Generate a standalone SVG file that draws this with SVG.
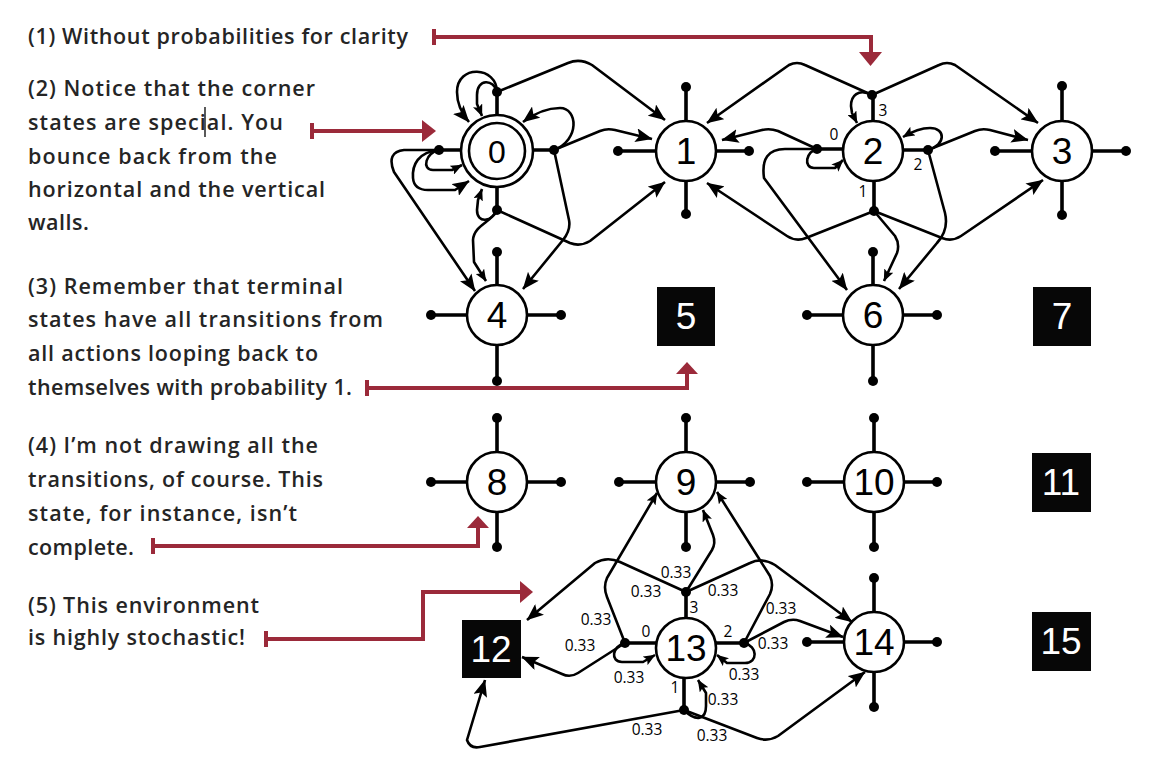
<svg xmlns="http://www.w3.org/2000/svg" width="1150" height="766" viewBox="0 0 1150 766">
  <style>
    .note { font-family: "Open Sans", "Liberation Sans", sans-serif; font-size: 21.5px; font-weight: 600; fill: #252525; }
    .edge { fill: none; stroke: #000; stroke-width: 2.6; stroke-linejoin: round; }
    .big { marker-end: url(#ah); }
    .sm { marker-end: url(#ahs); }
    .spoke { stroke: #000; stroke-width: 3.6; }
    .dot { fill: #000; }
    .ring { fill: #fff; stroke: #000; stroke-width: 2.6; }
    .lbl { font-family: "Liberation Sans", Arial, sans-serif; font-size: 37px; text-anchor: middle; fill: #000; }
    .term rect { fill: #070707; }
    .term text { font-family: "Liberation Sans", Arial, sans-serif; font-size: 37px; text-anchor: middle; fill: #fff; }
    .p { font-family: "Open Sans", "Liberation Sans", sans-serif; font-size: 15.5px; text-anchor: middle; fill: #000; }
    .callout { fill: none; stroke: #9b2a3a; stroke-width: 4; }
    .callout-head { fill: #9b2a3a; }
  </style>
  <defs>
    <marker id="ah" markerUnits="userSpaceOnUse" viewBox="0 0 17 14" refX="16.5" refY="7" markerWidth="17" markerHeight="14" orient="auto">
      <path d="M0,0 L17,7 L0,14 L3.5,7 z" fill="#000"/>
    </marker>
    <marker id="ahs" markerUnits="userSpaceOnUse" viewBox="0 0 12 10" refX="11.5" refY="5" markerWidth="12" markerHeight="10" orient="auto">
      <path d="M0,0 L12,5 L0,10 L2.5,5 z" fill="#000"/>
    </marker>
  </defs>
  <rect width="1150" height="766" fill="#fff"/>

  <!-- notes -->
  <g id="notes">
    <text class="note" x="28" y="44" textLength="380" lengthAdjust="spacing">(1) Without probabilities for clarity</text>
    <text class="note" x="28" y="96" textLength="287" lengthAdjust="spacing">(2) Notice that the corner</text>
    <text class="note" x="28" y="130" textLength="255" lengthAdjust="spacing">states are special. You</text>
    <text class="note" x="28" y="164" textLength="249" lengthAdjust="spacing">bounce back from the</text>
    <text class="note" x="28" y="197" textLength="297" lengthAdjust="spacing">horizontal and the vertical</text>
    <text class="note" x="28" y="230" textLength="61" lengthAdjust="spacing">walls.</text>
    <line x1="205" y1="107" x2="205" y2="137" stroke="#000" stroke-width="1.3"/>
    <text class="note" x="28" y="294" textLength="315" lengthAdjust="spacing">(3) Remember that terminal</text>
    <text class="note" x="28" y="327" textLength="355" lengthAdjust="spacing">states have all transitions from</text>
    <text class="note" x="28" y="361" textLength="290" lengthAdjust="spacing">all actions looping back to</text>
    <text class="note" x="28" y="395" textLength="324" lengthAdjust="spacing">themselves with probability 1.</text>
    <text class="note" x="28" y="453" textLength="290" lengthAdjust="spacing">(4) I’m not drawing all the</text>
    <text class="note" x="28" y="487" textLength="295" lengthAdjust="spacing">transitions, of course. This</text>
    <text class="note" x="28" y="521" textLength="269" lengthAdjust="spacing">state, for instance, isn’t</text>
    <text class="note" x="28" y="555" textLength="106" lengthAdjust="spacing">complete.</text>
    <text class="note" x="28" y="613" textLength="231" lengthAdjust="spacing">(5) This environment</text>
    <text class="note" x="28" y="645" textLength="217" lengthAdjust="spacing">is highly stochastic!</text>
  </g>

  <!-- callout pointers -->
  <g id="callouts">
    <path class="callout" d="M434,29 V45 M434,37 H871 V53"/>
    <polygon class="callout-head" points="859,52 882,52 870.5,66"/>
    <path class="callout" d="M312,123 V139 M312,131 H423"/>
    <polygon class="callout-head" points="422,120 436,131 422,142"/>
    <path class="callout" d="M367,380 V396 M367,388 H687 V373"/>
    <polygon class="callout-head" points="676,374 698,374 687,362"/>
    <path class="callout" d="M153,538 V554 M153,546 H478 V527"/>
    <polygon class="callout-head" points="467,528 489,528 478,516"/>
    <path class="callout" d="M266,631 V647 M266,639 H423 V592 H521"/>
    <polygon class="callout-head" points="520,581 533,592 520,603"/>
  </g>

  <!-- transitions -->
  <g id="connectors">
    <!-- state 0 -->
    <path class="edge big" d="M497,92 L568,63 Q580,58 592,65 L665,120"/>
    <path class="edge big" d="M497,92 C497,66 457,64 457,92 Q457,108 469,122"/>
    <path class="edge sm" d="M497,92 C494,79 477,78 477,95 L477,104 L482,116"/>
    <path class="edge big" d="M554,150 C580,140 578,108 560,108 C548,108 535,113 523,122"/>
    <path class="edge big" d="M554,150 L600,131 Q607,128 615,130 L652,139"/>
    <path class="edge big" d="M554,150 L569,220 Q571,230 563,240 L523,289"/>
    <path class="edge big" d="M497,210 L570,243 Q580,247 590,241 L665,182"/>
    <path class="edge sm" d="M497,210 C492,222 477,224 477,210 L478,200 L482,189"/>
    <path class="edge sm" d="M497,210 C492,222 474,225 473,240 L474,262 L486,281"/>
    <path class="edge sm" d="M439,150 C426,152 421,170 433,170 L452,170 L462,165"/>
    <path class="edge big" d="M439,150 C418,152 412,165 413,178 Q414,190 428,190 L455,190 L469,181"/>
    <path class="edge big" d="M439,150 L404,150 Q386,152 394,172 L475,291"/>

    <!-- state 2 -->
    <path class="edge big" d="M872,95 L805,65 Q797,61 789,65 L707,123"/>
    <path class="edge big" d="M872,95 L939,65 Q947,61 955,65 L1038,123"/>
    <path class="edge sm" d="M872,95 C858,88 851,96 851,106 L852,113 L857,123"/>
    <path class="edge big" d="M817,149 L778,131 Q770,128 762,130 L722,140"/>
    <path class="edge sm" d="M817,149 C806,151 803,168 814,168 L835,168 L843,160"/>
    <path class="edge big" d="M817,149 L785,149 Q760,149 764,178 L847,290"/>
    <path class="edge sm" d="M928,150 C946,145 946,128 930,128 Q918,128 903,137"/>
    <path class="edge big" d="M928,150 L975,131 Q982,128 990,130 L1028,140"/>
    <path class="edge big" d="M928,150 L945,213 Q949,230 937,243 L899,289"/>
    <path class="edge big" d="M874,211 L806,238 Q796,242 787,236 L707,183"/>
    <path class="edge big" d="M874,211 L942,238 Q952,242 961,236 L1043,180"/>
    <path class="edge sm" d="M874,211 L895,236 Q900,244 897,253 L884,281"/>

    <!-- state 13 -->
    <path class="edge sm" d="M686,592 L712,550 Q716,543 713,535 L703,510"/>
    <path class="edge big" d="M686,592 L620,562 Q607,556 595,563 L527,620"/>
    <path class="edge big" d="M686,592 L750,563 Q762,557 775,565 L852,622"/>
    <path class="edge sm" d="M625,643 L607,597 Q603,587 607,578 L657,493"/>
    <path class="edge big" d="M625,643 L578,673 Q570,678 562,674 L522,657"/>
    <path class="edge sm" d="M625,643 C612,646 610,662 622,662 L643,662 L655,655"/>
    <path class="edge sm" d="M744,643 L770,594 Q774,585 770,576 L717,492"/>
    <path class="edge big" d="M744,643 L784,622 Q792,618 800,621 L843,637"/>
    <path class="edge sm" d="M744,643 C758,646 758,663 745,663 L727,663 L717,655"/>
    <path class="edge sm" d="M684,710 C696,722 706,720 706,706 L706,693 L698,680"/>
    <path class="edge big" d="M684,710 L480,747 Q470,749 467,740 L485,680"/>
    <path class="edge big" d="M684,710 L757,738 Q768,742 778,736 L865,672"/>

    <!-- action and probability labels -->
    <text class="p" x="883" y="116">3</text>
    <text class="p" x="834" y="140">0</text>
    <text class="p" x="918" y="170">2</text>
    <text class="p" x="863" y="197">1</text>

    <text class="p" x="646" y="637">0</text>
    <text class="p" x="728" y="637">2</text>
    <text class="p" x="694" y="613">3</text>
    <text class="p" x="675" y="693">1</text>

    <text class="p" x="676" y="578">0.33</text>
    <text class="p" x="646" y="597">0.33</text>
    <text class="p" x="723" y="596">0.33</text>
    <text class="p" x="596" y="625">0.33</text>
    <text class="p" x="580" y="651">0.33</text>
    <text class="p" x="629" y="683">0.33</text>
    <text class="p" x="781" y="614">0.33</text>
    <text class="p" x="773" y="649">0.33</text>
    <text class="p" x="744" y="680">0.33</text>
    <text class="p" x="723" y="705">0.33</text>
    <text class="p" x="647" y="735">0.33</text>
    <text class="p" x="712" y="741">0.33</text>
  </g>

  <!-- states -->
  <g id="node-0">
    <path class="spoke" d="M497,115 V92 M461,150 H439 M533,150 H554 M497,187 V210"/>
    <circle class="dot" cx="497" cy="92" r="5"/><circle class="dot" cx="439" cy="150" r="5"/>
    <circle class="dot" cx="554" cy="150" r="5"/><circle class="dot" cx="497" cy="210" r="5"/>
    <circle class="ring" cx="497" cy="151" r="36"/>
    <circle class="ring" cx="497" cy="151" r="28"/>
    <text class="lbl" x="497" y="163" style="font-size:32px">0</text>
  </g>
  <g id="node-1">
    <path class="spoke" d="M686,121 V87 M656,151 H618 M716,151 H749 M686,181 V214"/>
    <circle class="dot" cx="686" cy="87" r="5"/><circle class="dot" cx="618" cy="151" r="5"/>
    <circle class="dot" cx="749" cy="151" r="5"/><circle class="dot" cx="686" cy="214" r="5"/>
    <circle class="ring" cx="686" cy="151" r="30"/>
    <text class="lbl" x="686" y="164">1</text>
  </g>
  <g id="node-2">
    <path class="spoke" d="M873,121 V95 M843,149 H817 M903,150 H928 M874,181 V211"/>
    <circle class="dot" cx="872" cy="95" r="5"/><circle class="dot" cx="817" cy="149" r="5"/>
    <circle class="dot" cx="928" cy="150" r="5"/><circle class="dot" cx="874" cy="211" r="5"/>
    <circle class="ring" cx="873" cy="151" r="30"/>
    <text class="lbl" x="873" y="164">2</text>
  </g>
  <g id="node-3">
    <path class="spoke" d="M1062,121 V86 M1032,151 H995 M1092,151 H1126 M1062,181 V215"/>
    <circle class="dot" cx="1062" cy="86" r="5"/><circle class="dot" cx="995" cy="151" r="5"/>
    <circle class="dot" cx="1126" cy="151" r="5"/><circle class="dot" cx="1062" cy="215" r="5"/>
    <circle class="ring" cx="1062" cy="151" r="30"/>
    <text class="lbl" x="1062" y="164">3</text>
  </g>
  <g id="node-4">
    <path class="spoke" d="M497,285 V252 M467,315 H431 M527,315 H561 M497,345 V381"/>
    <circle class="dot" cx="497" cy="252" r="5"/><circle class="dot" cx="431" cy="315" r="5"/>
    <circle class="dot" cx="561" cy="315" r="5"/><circle class="dot" cx="497" cy="381" r="5"/>
    <circle class="ring" cx="497" cy="315" r="30"/>
    <text class="lbl" x="497" y="328">4</text>
  </g>
  <g id="node-5" class="term">
    <rect x="657" y="287" width="58" height="59"/>
    <text x="686" y="329">5</text>
  </g>
  <g id="node-6">
    <path class="spoke" d="M873,285 V252 M843,315 H807 M903,315 H937 M873,345 V381"/>
    <circle class="dot" cx="873" cy="252" r="5"/><circle class="dot" cx="807" cy="315" r="5"/>
    <circle class="dot" cx="937" cy="315" r="5"/><circle class="dot" cx="873" cy="381" r="5"/>
    <circle class="ring" cx="873" cy="315" r="30"/>
    <text class="lbl" x="873" y="328">6</text>
  </g>
  <g id="node-7" class="term">
    <rect x="1033" y="287" width="58" height="59"/>
    <text x="1062" y="329">7</text>
  </g>
  <g id="node-8">
    <path class="spoke" d="M497,452 V418 M467,482 H431 M527,482 H561 M497,512 V547"/>
    <circle class="dot" cx="497" cy="418" r="5"/><circle class="dot" cx="431" cy="482" r="5"/>
    <circle class="dot" cx="561" cy="482" r="5"/><circle class="dot" cx="497" cy="547" r="5"/>
    <circle class="ring" cx="497" cy="482" r="30"/>
    <text class="lbl" x="497" y="495">8</text>
  </g>
  <g id="node-9">
    <path class="spoke" d="M686,452 V418 M656,482 H619 M716,482 H750 M686,512 V547"/>
    <circle class="dot" cx="686" cy="418" r="5"/><circle class="dot" cx="619" cy="482" r="5"/>
    <circle class="dot" cx="750" cy="482" r="5"/><circle class="dot" cx="686" cy="547" r="5"/>
    <circle class="ring" cx="686" cy="482" r="30"/>
    <text class="lbl" x="686" y="495">9</text>
  </g>
  <g id="node-10">
    <path class="spoke" d="M874,452 V418 M844,482 H807 M904,482 H937 M874,512 V547"/>
    <circle class="dot" cx="874" cy="418" r="5"/><circle class="dot" cx="807" cy="482" r="5"/>
    <circle class="dot" cx="937" cy="482" r="5"/><circle class="dot" cx="874" cy="547" r="5"/>
    <circle class="ring" cx="874" cy="482" r="30"/>
    <text class="lbl" x="874" y="495">10</text>
  </g>
  <g id="node-11" class="term">
    <rect x="1032" y="453" width="59" height="59"/>
    <text x="1061" y="495">11</text>
  </g>
  <g id="node-12" class="term">
    <rect x="462" y="620" width="59" height="58"/>
    <text x="491" y="662">12</text>
  </g>
  <g id="node-13">
    <path class="spoke" d="M686,618 V592 M656,643 H625 M716,643 H744 M684,678 V710"/>
    <circle class="dot" cx="686" cy="592" r="5"/><circle class="dot" cx="625" cy="643" r="5"/>
    <circle class="dot" cx="744" cy="643" r="5"/><circle class="dot" cx="684" cy="710" r="5"/>
    <circle class="ring" cx="686" cy="648" r="30"/>
    <text class="lbl" x="686" y="661">13</text>
  </g>
  <g id="node-14">
    <path class="spoke" d="M874,612 V578 M844,642 H807 M904,642 H937 M874,672 V707"/>
    <circle class="dot" cx="874" cy="578" r="5"/><circle class="dot" cx="807" cy="642" r="5"/>
    <circle class="dot" cx="937" cy="642" r="5"/><circle class="dot" cx="874" cy="707" r="5"/>
    <circle class="ring" cx="874" cy="642" r="30"/>
    <text class="lbl" x="874" y="655">14</text>
  </g>
  <g id="node-15" class="term">
    <rect x="1032" y="612" width="59" height="59"/>
    <text x="1061" y="654">15</text>
  </g>
</svg>
